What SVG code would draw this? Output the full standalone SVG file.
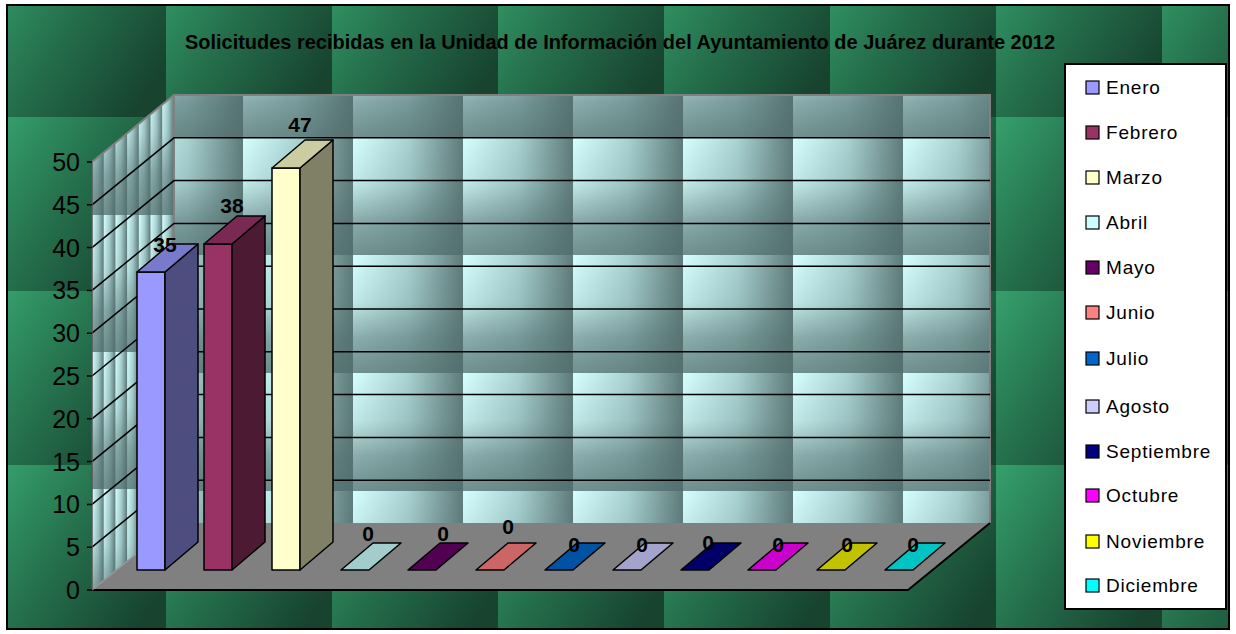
<svg xmlns="http://www.w3.org/2000/svg" width="1236" height="634" viewBox="0 0 1236 634">
<defs>
<linearGradient id="gTile" x1="0" y1="0" x2="1" y2="0.7">
 <stop offset="0" stop-color="#35a06c"/>
 <stop offset="0.5" stop-color="#246e4b"/>
 <stop offset="1" stop-color="#17432f"/>
</linearGradient>
<pattern id="pBg" patternUnits="userSpaceOnUse" x="0" y="-57" width="166" height="174">
 <rect width="166" height="174" fill="url(#gTile)"/>
</pattern>
<linearGradient id="gWallH" x1="0" y1="0" x2="1" y2="0">
 <stop offset="0" stop-color="#d6ffff"/>
 <stop offset="0.5" stop-color="#a9d2d2"/>
 <stop offset="1" stop-color="#5f7b7b"/>
</linearGradient>
<linearGradient id="gWallV" x1="0" y1="0" x2="0" y2="1">
 <stop offset="0" stop-color="#4f6b6b" stop-opacity="0"/>
 <stop offset="0.4" stop-color="#4f6b6b" stop-opacity="0.15"/>
 <stop offset="0.7" stop-color="#4f6b6b" stop-opacity="0.55"/>
 <stop offset="1" stop-color="#4f6b6b" stop-opacity="0.75"/>
</linearGradient>
<pattern id="pWall" patternUnits="userSpaceOnUse" x="23" y="19" width="110" height="118">
 <rect width="110" height="118" fill="url(#gWallH)"/>
 <rect width="110" height="118" fill="url(#gWallV)"/>
</pattern>
<pattern id="pSide" patternUnits="userSpaceOnUse" x="92" y="78" width="11.7" height="137">
 <rect width="11.7" height="137" fill="url(#gWallH)"/>
 <rect width="11.7" height="137" fill="url(#gWallV)"/>
</pattern>
<style>
 .grid{stroke:#000;stroke-width:1.5;fill:none}
 .edge{stroke:#808080;stroke-width:2;fill:none}
 .bar{stroke:#000;stroke-width:1.5;stroke-linejoin:round}
 .ax{font-family:"Liberation Sans",Arial,sans-serif;font-size:25px;fill:#000;text-anchor:end}
 .val{font-family:"Liberation Sans",Arial,sans-serif;font-size:21px;font-weight:bold;fill:#000;text-anchor:middle}
 .leg{font-family:"Liberation Sans",Arial,sans-serif;font-size:19px;fill:#000;letter-spacing:0.8px}
 .sw{stroke:#000;stroke-width:1.2}
</style>
</defs>
<rect width="1236" height="634" fill="#fff"/>
<rect x="7" y="5" width="1222" height="624" fill="url(#pBg)" stroke="#000" stroke-width="2"/>

<g id="title">
 <text x="620" y="49" text-anchor="middle" font-family="'Liberation Sans',Arial,sans-serif" font-size="21" font-weight="bold" textLength="870" lengthAdjust="spacingAndGlyphs">Solicitudes recibidas en la Unidad de Información del Ayuntamiento de Juárez durante 2012</text>
</g>

<g id="walls">
 <polygon points="92,162 174,95 174,523 92,590" fill="url(#pSide)"/>
 <rect x="174" y="95" width="816" height="428" fill="url(#pWall)"/>
 <polyline class="edge" points="92,162 174,95 990,95 990,523"/>
 <line class="edge" x1="174" y1="95" x2="174" y2="523"/>
</g>

<g id="gridlines">
 <path class="grid" d="M92,547.2L174,480.2H990 M92,504.4L174,437.4H990 M92,461.6L174,394.6H990 M92,418.8L174,351.8H990 M92,376L174,309H990 M92,333.2L174,266.2H990 M92,290.4L174,223.4H990 M92,247.6L174,180.6H990 M92,204.8L174,137.8H990"/>
</g>

<g id="floor">
 <polygon points="92,590 174,523 990,523 908,590" fill="#808080"/>
 <polyline points="92,590 908,590 990,523" fill="none" stroke="#000" stroke-width="2"/>
 <line x1="92" y1="590" x2="174" y2="523" stroke="#9a9a9a" stroke-width="1.5"/>
</g>

<g id="axis">
 <line x1="92" y1="162" x2="92" y2="590" stroke="#555" stroke-width="1.5"/>
 <path stroke="#000" stroke-width="1.5" d="M87,590H92 M87,547.2H92 M87,504.4H92 M87,461.6H92 M87,418.8H92 M87,376H92 M87,333.2H92 M87,290.4H92 M87,247.6H92 M87,204.8H92 M87,162H92"/>
 <text class="ax" x="80" y="599">0</text>
 <text class="ax" x="80" y="556.2">5</text>
 <text class="ax" x="80" y="513.4">10</text>
 <text class="ax" x="80" y="470.6">15</text>
 <text class="ax" x="80" y="427.8">20</text>
 <text class="ax" x="80" y="385">25</text>
 <text class="ax" x="80" y="342.2">30</text>
 <text class="ax" x="80" y="299.4">35</text>
 <text class="ax" x="80" y="256.6">40</text>
 <text class="ax" x="80" y="213.8">45</text>
 <text class="ax" x="80" y="171">50</text>
</g>

<g id="bar-enero">
 <rect class="bar" x="137" y="272" width="28" height="298" fill="#9999ff"/>
 <polygon class="bar" points="165,272 198,244 198,542 165,570" fill="#4d4d80"/>
 <polygon class="bar" points="137,272 165,272 198,244 170,244" fill="#7a7acc"/>
 <text class="val" x="165" y="252">35</text>
</g>
<g id="bar-febrero">
 <rect class="bar" x="204" y="244" width="28" height="326" fill="#993366"/>
 <polygon class="bar" points="232,244 265,216 265,542 232,570" fill="#4d1a33"/>
 <polygon class="bar" points="204,244 232,244 265,216 237,216" fill="#7a2952"/>
 <text class="val" x="232" y="213">38</text>
</g>
<g id="bar-marzo">
 <rect class="bar" x="272" y="168" width="28" height="402" fill="#ffffcc"/>
 <polygon class="bar" points="300,168 333,140 333,542 300,570" fill="#808066"/>
 <polygon class="bar" points="272,168 300,168 333,140 305,140" fill="#cccca3"/>
 <text class="val" x="300" y="132">47</text>
</g>
<g id="bar-abril">
 <polygon class="bar" points="341,570 369,570 401,543 373,543" fill="#a3cccc"/>
 <text class="val" x="368" y="541">0</text>
</g>
<g id="bar-mayo">
 <polygon class="bar" points="408,570 436,570 468,543 440,543" fill="#520052"/>
 <text class="val" x="443" y="541">0</text>
</g>
<g id="bar-junio">
 <polygon class="bar" points="476,570 504,570 536,543 508,543" fill="#cc6666"/>
 <text class="val" x="508" y="534">0</text>
</g>
<g id="bar-julio">
 <polygon class="bar" points="545,570 573,570 605,543 577,543" fill="#0052a3"/>
 <text class="val" x="574" y="552">0</text>
</g>
<g id="bar-agosto">
 <polygon class="bar" points="613,570 641,570 673,543 645,543" fill="#a3a3cc"/>
 <text class="val" x="642" y="552">0</text>
</g>
<g id="bar-septiembre">
 <polygon class="bar" points="681,570 709,570 741,543 713,543" fill="#000066"/>
 <text class="val" x="708" y="550">0</text>
</g>
<g id="bar-octubre">
 <polygon class="bar" points="748,570 776,570 808,543 780,543" fill="#cc00cc"/>
 <text class="val" x="778" y="552">0</text>
</g>
<g id="bar-noviembre">
 <polygon class="bar" points="817,570 845,570 877,543 849,543" fill="#c2c200"/>
 <text class="val" x="847" y="552">0</text>
</g>
<g id="bar-diciembre">
 <polygon class="bar" points="885,570 913,570 945,543 917,543" fill="#00c4c4"/>
 <text class="val" x="913" y="552">0</text>
</g>

<g id="legend">
 <rect x="1065" y="64" width="161" height="545" fill="#fff" stroke="#000" stroke-width="2"/>
 <rect class="sw" x="1086" y="81" width="13" height="13" fill="#9999ff"/><text class="leg" x="1106" y="94">Enero</text>
 <rect class="sw" x="1086" y="126" width="13" height="13" fill="#993366"/><text class="leg" x="1106" y="139">Febrero</text>
 <rect class="sw" x="1086" y="171" width="13" height="13" fill="#ffffcc"/><text class="leg" x="1106" y="184">Marzo</text>
 <rect class="sw" x="1086" y="216" width="13" height="13" fill="#ccffff"/><text class="leg" x="1106" y="229">Abril</text>
 <rect class="sw" x="1086" y="261" width="13" height="13" fill="#660066"/><text class="leg" x="1106" y="274">Mayo</text>
 <rect class="sw" x="1086" y="306" width="13" height="13" fill="#ff8080"/><text class="leg" x="1106" y="319">Junio</text>
 <rect class="sw" x="1086" y="352" width="13" height="13" fill="#0066cc"/><text class="leg" x="1106" y="365">Julio</text>
 <rect class="sw" x="1086" y="400" width="13" height="13" fill="#ccccff"/><text class="leg" x="1106" y="413">Agosto</text>
 <rect class="sw" x="1086" y="445" width="13" height="13" fill="#000080"/><text class="leg" x="1106" y="458">Septiembre</text>
 <rect class="sw" x="1086" y="489" width="13" height="13" fill="#ff00ff"/><text class="leg" x="1106" y="502">Octubre</text>
 <rect class="sw" x="1086" y="535" width="13" height="13" fill="#ffff00"/><text class="leg" x="1106" y="548">Noviembre</text>
 <rect class="sw" x="1086" y="579" width="13" height="13" fill="#00ffff"/><text class="leg" x="1106" y="592">Diciembre</text>
</g>
</svg>
